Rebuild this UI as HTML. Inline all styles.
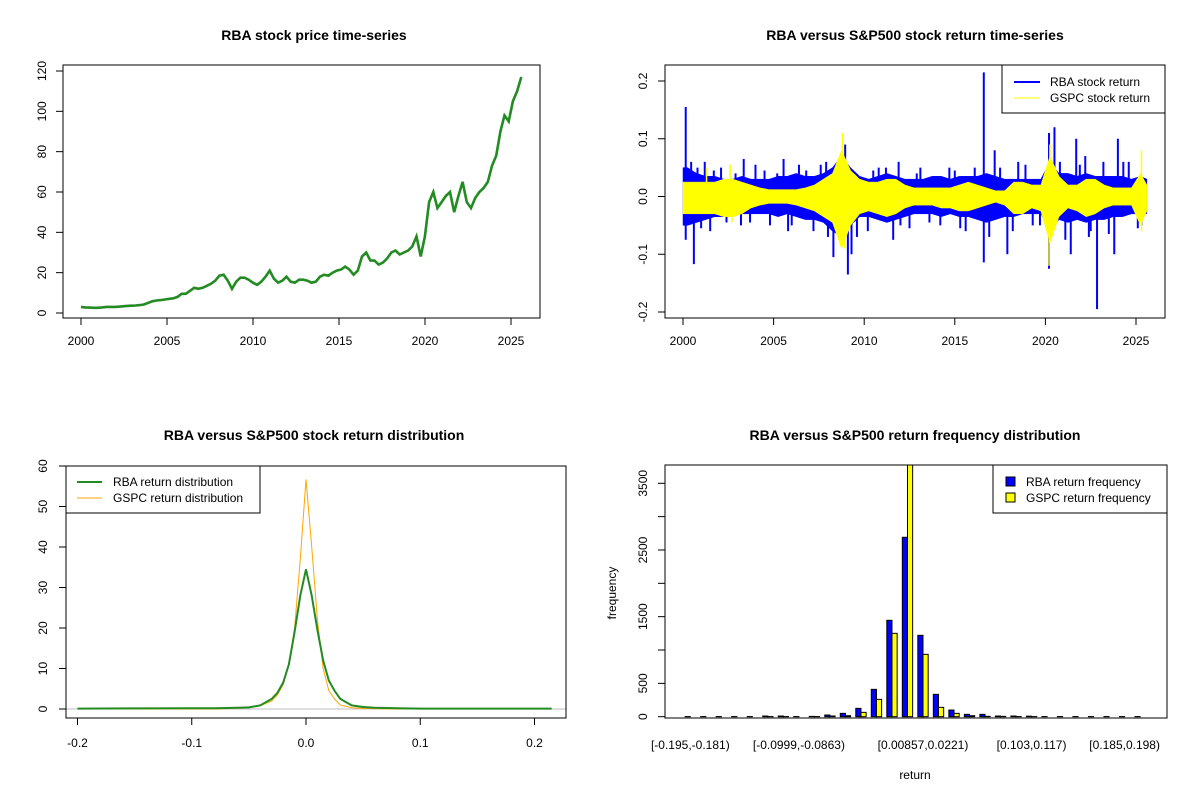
<!DOCTYPE html>
<html><head><meta charset="utf-8"><title>RBA charts</title>
<style>
html,body{margin:0;padding:0;background:#fff;}
svg{display:block;font-family:"Liberation Sans",Arial,sans-serif;}
text{fill:#000;}
</style></head>
<body>
<svg id="chart" xmlns="http://www.w3.org/2000/svg" width="1200" height="800" viewBox="0 0 1200 800">
<rect width="1200" height="800" fill="#fff"/>
</svg>
<script>
// ---------- Panel 1: price ----------
const priceStart = 2000;
const priceEnd = 2025.6;
const priceValues = [3,2.8,2.7,2.6, 2.6,2.8,3,3, 3,3.1,3.3,3.5, 3.6,3.7,3.9,4.2, 5,5.8,6.2,6.4,
 6.7,7,7.3,8, 9.5,9.5,11,12.5, 12,12.5,13.5,14.5, 16,18.5,19,16, 12,15.5,17.5,17.5,
 16.5,15,14,15.5, 18,21,17,15, 16,18,15.5,15, 16.5,16.5,16,15, 15.5,18,19,18.5,
 20,21,21.5,23, 21.5,19,21,28, 30,26,26,24, 25,27,30,31, 29,30,31,33,
 38,28,38,55, 60,52,55,58, 60,50,58,65, 55,52,57,60, 62,65,73,78, 90,98,95,105, 110,117];
const priceYTicks = [0,20,40,60,80,100,120];
const yearTicks = [2000,2005,2010,2015,2020,2025];

// ---------- Panel 2: returns (half-year envelope + spikes) ----------
const blockStart = 2000;
const blockStep = 0.5;
const rbaHi = [.05,.04,.035,.035,.03,.03,.035,.03,.03,.03,.035,.035,.04,.035,.035,.04,.05,.07,.05,.035,.03,.035,.04,.035,.03,.03,.03,.035,.035,.03,.035,.035,.035,.04,.035,.03,.03,.03,.03,.03,.06,.04,.04,.035,.04,.035,.035,.035,.035,.03,.035,.03];
const rbaLo = [-.05,-.045,-.04,-.035,-.035,-.03,-.03,-.03,-.03,-.03,-.035,-.03,-.035,-.04,-.04,-.045,-.06,-.07,-.05,-.035,-.035,-.04,-.045,-.04,-.035,-.03,-.03,-.03,-.035,-.03,-.035,-.035,-.04,-.045,-.04,-.035,-.035,-.03,-.03,-.03,-.06,-.04,-.045,-.04,-.045,-.04,-.04,-.035,-.035,-.03,-.03,-.03];
const gspcHi = [.025,.025,.025,.025,.03,.03,.025,.02,.015,.012,.012,.012,.012,.015,.02,.03,.04,.08,.045,.03,.025,.025,.03,.03,.02,.015,.015,.015,.015,.015,.02,.025,.02,.015,.01,.01,.025,.025,.02,.02,.07,.035,.02,.02,.03,.03,.02,.015,.015,.015,.04,.02];
const gspcLo = [-.03,-.03,-.03,-.03,-.035,-.035,-.03,-.02,-.015,-.012,-.012,-.012,-.015,-.02,-.025,-.035,-.045,-.09,-.05,-.03,-.025,-.03,-.035,-.03,-.02,-.015,-.015,-.015,-.02,-.02,-.025,-.025,-.02,-.015,-.01,-.015,-.03,-.03,-.02,-.025,-.08,-.035,-.02,-.025,-.035,-.03,-.02,-.015,-.015,-.015,-.05,-.025];
const rbaSpikeYears = [2000.15,2000.15,2000.6,2000.45,2001.2,2001.5,2002.1,2003.35,2003.2,2004.0,2005.55,2005.8,2006.4,2007.2,2007.6,2008.3,2008.95,2009.1,2009.3,2010.2,2010.8,2011.6,2011.9,2012.5,2013.1,2014.2,2015.0,2015.6,2016.6,2016.6,2017.2,2017.9,2018.5,2019.3,2020.2,2020.2,2020.5,2021.4,2021.7,2022.2,2022.85,2022.5,2023.8,2024.0,2024.3,2025.3,
 2000.8,2001.0,2001.7,2002.4,2002.9,2003.7,2004.5,2004.8,2005.2,2006.0,2006.8,2007.9,2008.0,2008.6,2009.6,2010.5,2011.2,2012.0,2012.9,2013.6,2014.7,2015.3,2016.1,2016.9,2017.5,2018.2,2018.9,2019.7,2020.8,2021.1,2021.9,2022.4,2023.2,2023.5,2024.6,2025.1];
const rbaSpikeValues = [.155,-.075,-.117,.06,.06,-.06,.05,.065,-.05,.055,.065,-.06,.055,-.06,.055,-.105,.09,-.135,-.1,-.06,.05,-.075,.06,-.055,.05,-.05,.045,-.06,.215,-.114,.08,-.1,.06,-.05,-.125,.11,.12,-.1,.1,.07,-.195,-.06,-.1,.1,.06,-.05,
 .05,-.055,.045,-.045,.04,-.045,.045,-.05,.04,-.05,.045,.06,-.07,.065,-.07,.045,.05,-.05,.04,-.045,.05,-.055,.05,-.07,.05,-.06,.055,-.05,.06,-.075,.055,-.07,.06,-.065,.06,-.055];
const gspcSpikeYears = [2001.3,2002.6,2002.7,2008.75,2008.8,2008.9,2020.2,2020.25,2025.3,2025.3];
const gspcSpikeValues = [.05,.055,-.045,-.08,.11,-.09,-.12,.09,.08,-.06];
const retYTicks = [-0.2,-0.1,0,0.1,0.2];
const retYLabels = ["-0.2","-0.1","0.0","0.1","0.2"];

// ---------- Panel 3: densities ----------
const densX = [-0.2,-0.1,-0.08,-0.06,-0.05,-0.04,-0.03,-0.025,-0.02,-0.015,-0.01,-0.005,0,0.005,0.01,0.015,0.02,0.025,0.03,0.04,0.05,0.06,0.08,0.1,0.15,0.215];
const rbaDens = [0.1,0.2,0.2,0.3,0.4,0.9,2.5,4,6.5,11,19,28,34.5,28,19.5,12,7,4.5,2.5,0.9,0.5,0.3,0.2,0.1,0.1,0.1];
const gspcDens = [0,0,0,0.2,0.3,0.8,2,3.5,6,11,20,37,56.7,40,22,10,4.5,2.5,1,0.3,0.15,0.1,0,0,0,0];
const densXTicks = [-0.2,-0.1,0,0.1,0.2];
const densXLabels = ["-0.2","-0.1","0.0","0.1","0.2"];
const densYTicks = [0,10,20,30,40,50,60];

// ---------- Panel 4: histogram ----------
const binCount = 30;
const rbaFreq = [2,2,2,2,2,10,10,2,5,25,50,125,410,1445,2690,1220,335,100,35,35,10,10,8,2,2,2,2,2,2,2];
const gspcFreq = [0,0,0,0,0,2,2,0,2,10,15,65,260,1250,4100,935,140,50,15,5,5,2,2,0,0,0,0,0,0,0];
const binLabelIdx = [0,7,15,22,28];
const binLabels = ["[-0.195,-0.181)","[-0.0999,-0.0863)","[0.00857,0.0221)","[0.103,0.117)","[0.185,0.198)"];
const freqTicks = [0,500,1000,1500,2000,2500,3000,3500];
const freqLabels = ["0","500","","1500","","2500","","3500"];

const svg = document.getElementById('chart');
const NS = 'http://www.w3.org/2000/svg';
function mk(tag, attrs, parent){ const e=document.createElementNS(NS,tag); for(const k in attrs) e.setAttribute(k,attrs[k]); (parent||svg).appendChild(e); return e; }

function text(x,y,s,opts){ const t=mk('text',{x:x,y:y,'font-size':opts.size||12,'text-anchor':opts.anchor||'middle'}); if(opts.bold) t.setAttribute('font-weight','bold'); if(opts.rot) t.setAttribute('transform','rotate(-90 '+x+' '+y+')'); t.textContent=s; return t; }

function box(x1,y1,x2,y2,name){ const r=mk('rect',{x:x1,y:y1,width:x2-x1,height:y2-y1,fill:'none',stroke:'#000','stroke-width':1});   return r; }

function yAxis(ticks,labels,sy,x0,lx,name){
  const g=mk('g',{});  
  const ys=ticks.map(sy);
  mk('line',{x1:x0,x2:x0,y1:ys[0],y2:ys[ys.length-1],stroke:'#000'},g);
  ticks.forEach((v,i)=>{ mk('line',{x1:x0,x2:x0-7,y1:sy(v),y2:sy(v),stroke:'#000'},g);
    if(labels[i]!==''){ const t=text(lx,sy(v),labels[i],{rot:true}); t.setAttribute('dominant-baseline','central'); g.appendChild(t);} });
}
function xAxis(ticks,labels,sx,y0,ly,name){
  const g=mk('g',{});  
  const xs=ticks.map(sx);
  mk('line',{x1:xs[0],x2:xs[xs.length-1],y1:y0,y2:y0,stroke:'#000'},g);
  ticks.forEach((v,i)=>{ mk('line',{x1:sx(v),x2:sx(v),y1:y0,y2:y0+7,stroke:'#000'},g);
    const t=text(sx(v),ly,labels[i],{}); g.appendChild(t); });
}
function clip(id,x1,y1,x2,y2){ const d=mk('clipPath',{id:id}); mk('rect',{x:x1,y:y1,width:x2-x1,height:y2-y1},d); }

// ===== Panel 1 =====
{
  const sx=y=>81+(y-2000)*17.2, sy=v=>313-v*2.0167;
  const step=(priceEnd-priceStart)/(priceValues.length-1);
  const t=text(314,40,'RBA stock price time-series',{size:14,bold:true});
   
  const pts=priceValues.map((v,i)=>sx(priceStart+i*step).toFixed(1)+','+sy(v).toFixed(1)).join(' ');
  const l=mk('polyline',{points:pts,fill:'none',stroke:'#228B22','stroke-width':2.6,'stroke-linejoin':'miter'});
   
  box(63,65,540,318,'price-plot-frame');
  yAxis(priceYTicks,priceYTicks.map(String),sy,63,42,'price-y-axis');
  xAxis(yearTicks,yearTicks.map(String),sx,318,345,'price-x-axis');
}
// ===== Panel 2 =====
{
  const sx=y=>683+(y-2000)*18.12, sy=v=>196.5-v*577.5;
  clip('c2',665,65,1165,318);
  const t=text(915,40,'RBA versus S&P500 stock return time-series',{size:14,bold:true});
   
  function band(hi,lo,col,name){
    const n=hi.length; let p=[];
    const mid=i=>Math.min(blockStart+(i+0.5)*blockStep,2025.6);
    p.push(sx(blockStart)+','+sy(hi[0]));
    for(let i=0;i<n;i++) p.push(sx(mid(i))+','+sy(hi[i]));
    p.push(sx(2025.6)+','+sy(hi[n-1]));
    p.push(sx(2025.6)+','+sy(lo[n-1]));
    for(let i=n-1;i>=0;i--) p.push(sx(mid(i))+','+sy(lo[i]));
    p.push(sx(blockStart)+','+sy(lo[0]));
    const e=mk('polygon',{points:p.join(' '),fill:col,stroke:col,'stroke-width':0.5,'clip-path':'url(#c2)'});
     
  }
  function spikes(ys,vs,col,w,name){
    const g=mk('g',{'clip-path':'url(#c2)'});  
    ys.forEach((y,i)=>mk('line',{x1:sx(y),x2:sx(y),y1:sy(0),y2:sy(vs[i]),stroke:col,'stroke-width':w},g));
  }
  band(rbaHi,rbaLo,'#0000FF','rba-return-band');
  spikes(rbaSpikeYears,rbaSpikeValues,'#0000FF',2,'rba-return-spikes');
  band(gspcHi,gspcLo,'#FFFF00','gspc-return-band');
  spikes(gspcSpikeYears,gspcSpikeValues,'#FFFF00',1.5,'gspc-return-spikes');
  box(665,65,1165,318,'returns-plot-frame');
  yAxis(retYTicks,retYLabels,sy,665,643,'returns-y-axis');
  xAxis(yearTicks,yearTicks.map(String),sx,318,345,'returns-x-axis');
  const lg=mk('g',{});  
  mk('rect',{x:1002,y:65,width:163,height:48,fill:'#fff',stroke:'#000'},lg);
  mk('line',{x1:1014,x2:1040,y1:82,y2:82,stroke:'#0000FF','stroke-width':2},lg);
  mk('line',{x1:1014,x2:1040,y1:98,y2:98,stroke:'#FFFF00','stroke-width':1},lg);
  lg.appendChild(text(1050,86,'RBA stock return',{anchor:'start'}));
  lg.appendChild(text(1050,102,'GSPC stock return',{anchor:'start'}));
}
// ===== Panel 3 =====
{
  const sx=v=>306+v*1142.5, sy=d=>709-d*4.05;
  const t=text(314,440,'RBA versus S&P500 stock return distribution',{size:14,bold:true});
   
  const z=mk('line',{x1:66,x2:566,y1:sy(0),y2:sy(0),stroke:'#bebebe'});
   
  const p1=mk('polyline',{points:densX.map((x,i)=>sx(x)+','+sy(gspcDens[i])).join(' '),fill:'none',stroke:'#FFA500','stroke-width':1});
   
  const p2=mk('polyline',{points:densX.map((x,i)=>sx(x)+','+sy(rbaDens[i])).join(' '),fill:'none',stroke:'#228B22','stroke-width':2});
   
  box(66,466,566,718,'density-plot-frame');
  yAxis(densYTicks,densYTicks.map(String),sy,66,43,'density-y-axis');
  xAxis(densXTicks,densXLabels,sx,718,747,'density-x-axis');
  const lg=mk('g',{});  
  mk('rect',{x:66,y:466,width:194,height:47,fill:'#fff',stroke:'#000'},lg);
  mk('line',{x1:77,x2:102,y1:482,y2:482,stroke:'#228B22','stroke-width':2},lg);
  mk('line',{x1:77,x2:102,y1:498,y2:498,stroke:'#FFA500','stroke-width':1},lg);
  lg.appendChild(text(113,486,'RBA return distribution',{anchor:'start'}));
  lg.appendChild(text(113,502,'GSPC return distribution',{anchor:'start'}));
}
// ===== Panel 4 =====
{
  const u=5.17, sx=v=>680+v*u, sy=f=>716.7-f*0.06669;
  clip('c4',665,465,1167,718);
  const t=text(915,440,'RBA versus S&P500 return frequency distribution',{size:14,bold:true});
   
  const g=mk('g',{'clip-path':'url(#c4)'});  
  for(let i=0;i<binCount;i++){
    const b1=mk('rect',{x:sx(i*3+1),y:sy(rbaFreq[i]),width:u,height:sy(0)-sy(rbaFreq[i]),fill:'#0000FF',stroke:'#000','stroke-width':1},g);
    
    
    const b2=mk('rect',{x:sx(i*3+2),y:sy(gspcFreq[i]),width:u,height:sy(0)-sy(gspcFreq[i]),fill:'#FFFF00',stroke:'#000','stroke-width':1},g);
    
    
  }
  box(665,465,1167,718,'histogram-plot-frame');
  yAxis(freqTicks,freqLabels,sy,665,643,'histogram-y-axis');
  const xg=mk('g',{});  
  binLabelIdx.forEach((b,i)=>xg.appendChild(text(sx(b*3+2),749,binLabels[i],{})));
  const xl=text(915,779,'return',{});  
  const yl=text(616,593,'frequency',{rot:true});  
  const lg=mk('g',{});  
  mk('rect',{x:993,y:465,width:174,height:48,fill:'#fff',stroke:'#000'},lg);
  mk('rect',{x:1006,y:477,width:9,height:9,fill:'#0000FF',stroke:'#000'},lg);
  mk('rect',{x:1006,y:493,width:9,height:9,fill:'#FFFF00',stroke:'#000'},lg);
  lg.appendChild(text(1026,486,'RBA return frequency',{anchor:'start'}));
  lg.appendChild(text(1026,502,'GSPC return frequency',{anchor:'start'}));
}
</script>
</body></html>
